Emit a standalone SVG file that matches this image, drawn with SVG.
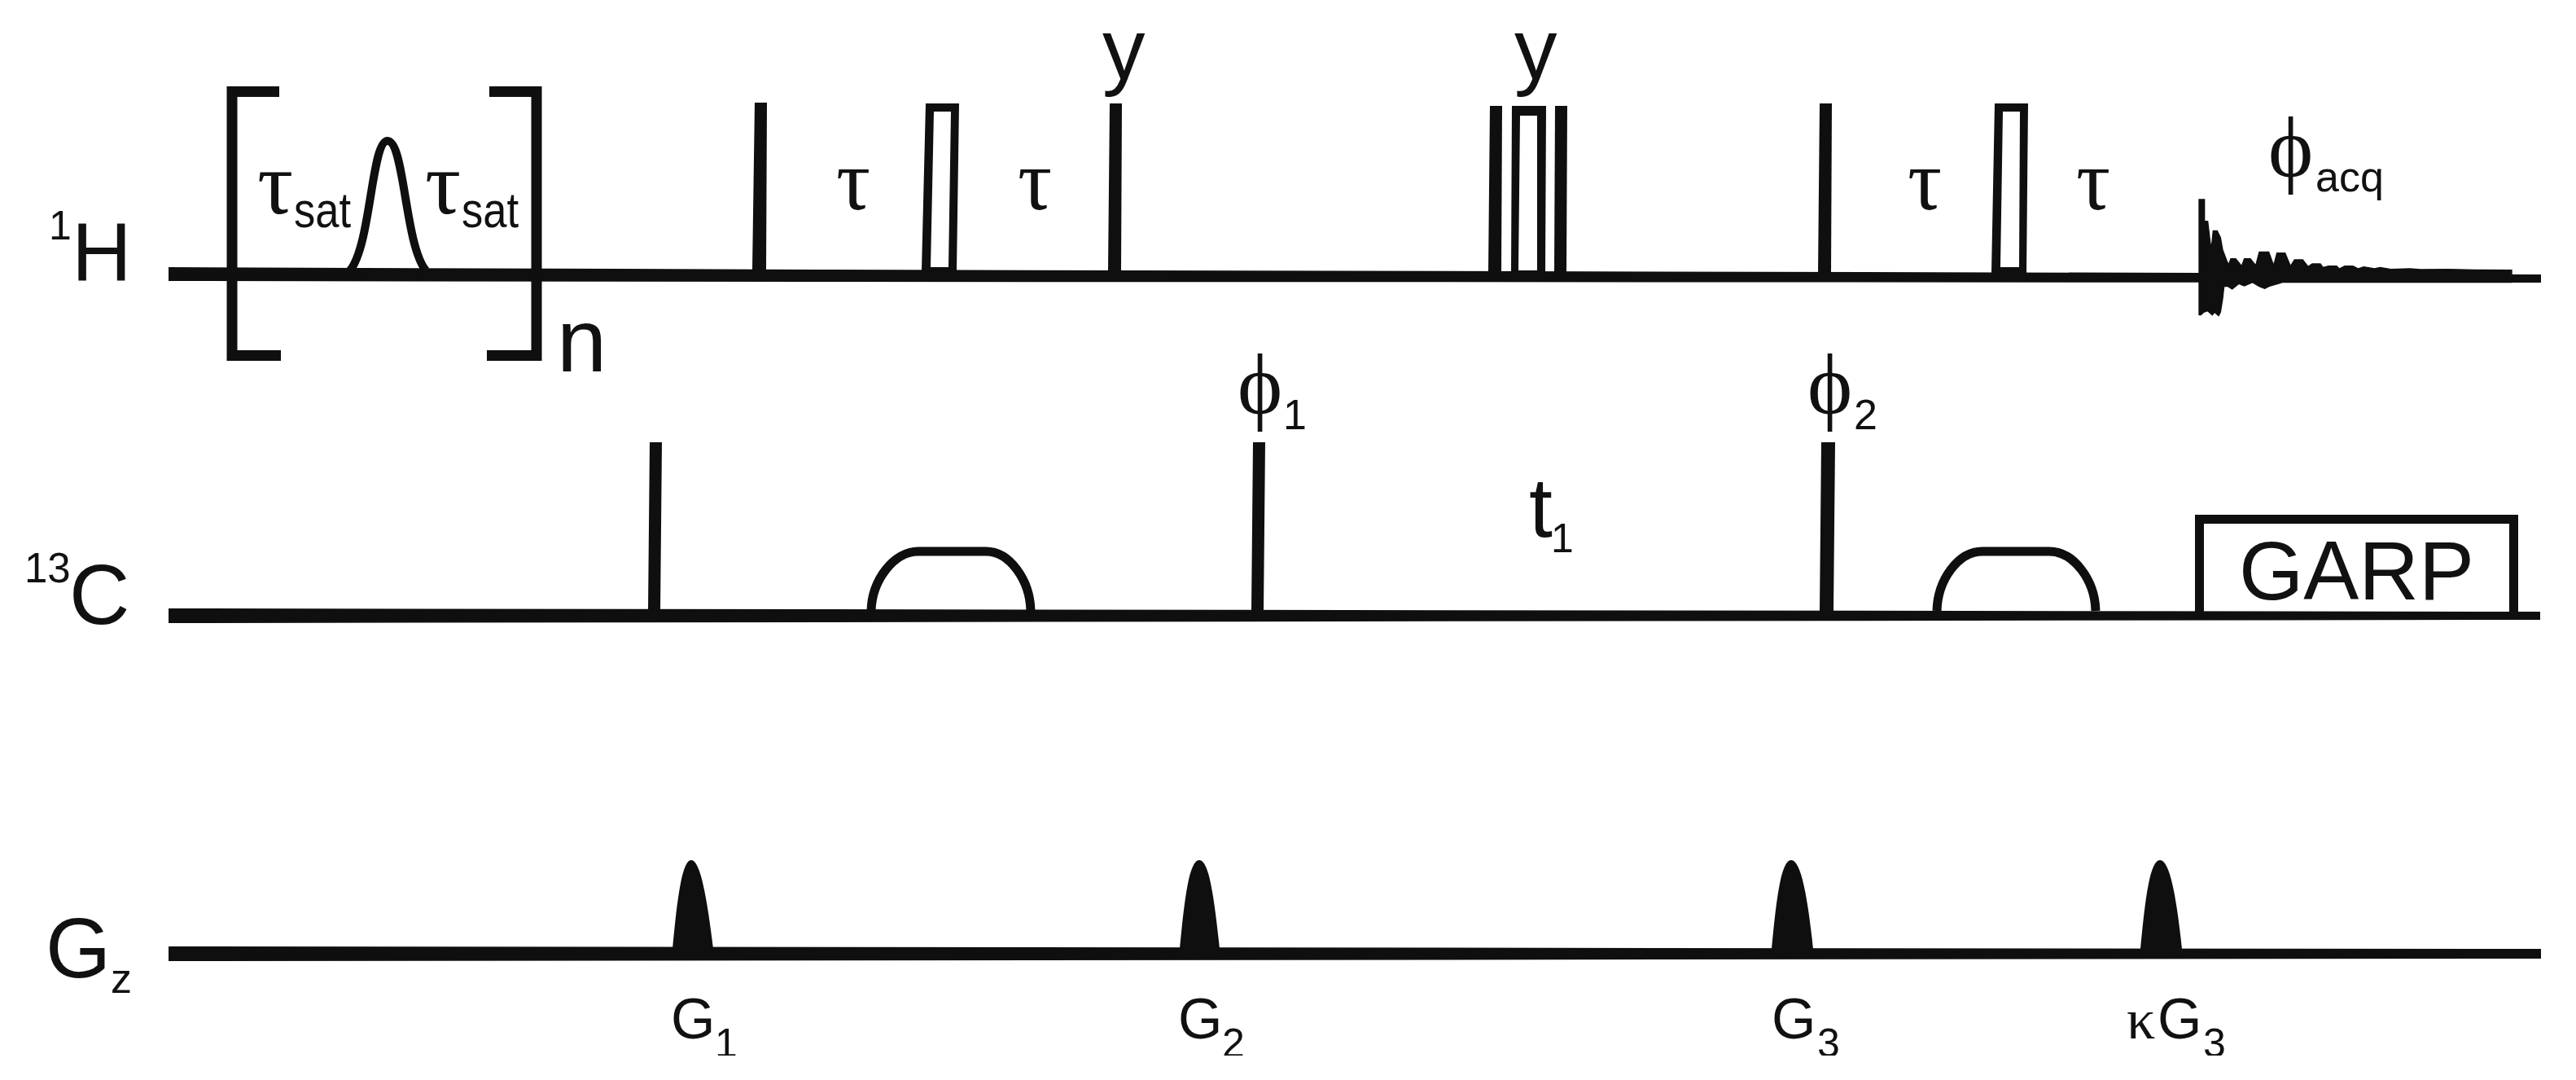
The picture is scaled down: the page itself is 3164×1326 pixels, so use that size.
<svg xmlns="http://www.w3.org/2000/svg" width="3164" height="1326" viewBox="0 0 3164 1326">
<style>
.k{fill:#0f0f0f}
.o{fill:none;stroke:#0f0f0f}
text{fill:#111;font-family:"Liberation Sans",Arial,sans-serif}
.s{font-family:"Liberation Serif","Times New Roman",serif}
</style>
<defs><clipPath id="cut"><rect width="3164" height="1296"/></clipPath></defs>
<rect width="3164" height="1326" fill="#fff"/>
<g id="connectors">
<polygon class="k" points="207,328 1000,331 2700,335 3121,337 3121,347 1000,346 207,345"/>
<polygon class="k" points="207,747 3120,751 3120,761 207,765"/>
<polygon class="k" points="207,1162 3121,1165 3121,1177 207,1180"/>
</g>
<g id="h-bracket-left"><path class="o" stroke-width="13" d="M343,112.500H285V436.500H345"/></g>
<g id="h-bracket-right"><path class="o" stroke-width="13" d="M601,112.500H659V436.500H598"/></g>
<g id="h-shape"><path class="o" stroke-width="10" d="M430,332C456,300 456,173 476,173C497,173 497,300 523,332"/></g>
<g id="h-p1"><polygon class="k" points="927,126 942,126 941,332 924,332"/></g>
<g id="h-p2"><path class="k" fill-rule="evenodd" d="M1137,127H1178L1175,332H1132ZM1147,137L1143,328H1165L1168,137Z"/></g>
<g id="h-p3"><polygon class="k" points="1363,127 1378,127 1377,332 1361,332"/></g>
<g id="h-p4"><polygon class="k" points="1830,130 1845,130 1844,334 1828,334"/></g>
<g id="h-p5"><path class="k" fill-rule="evenodd" d="M1857,130H1899L1898,334H1856ZM1867,142L1865,332H1888V142Z"/></g>
<g id="h-p6"><polygon class="k" points="1910,130 1925,130 1924,334 1909,334"/></g>
<g id="h-p7"><polygon class="k" points="2235,127 2250,127 2249,336 2233,336"/></g>
<g id="h-p8"><path class="k" fill-rule="evenodd" d="M2450,127H2491L2489,336H2446ZM2460,137L2457,328H2480L2481,137Z"/></g>
<g id="h-fid"><path class="k" stroke="#0f0f0f" stroke-width="4" transform="translate(2640 220) scale(.33333)" d="M183,345V75H203V155H215L225,240H230L235,190H250L262,215L270,260L285,300L292,315L300,293H318L340,320L350,293H372L392,318L405,268H440L458,318L470,272H500L520,320L535,297H565L585,322L600,312H630L640,325L660,320H690L700,330L720,320H750L770,330L790,323L830,330L850,325L890,332L960,330L1000,333L1100,332L1200,334L1335,335V380H490L440,395L425,403L405,395L380,380L350,393L330,385L305,405L290,395L275,395L270,440L262,490L255,503L240,490L232,500L215,485L200,490L190,500H183Z"/></g>
<g id="c-p1"><polygon class="k" points="798,543 813,543 811,750 796,750"/></g>
<g id="c-p2"><polygon class="k" points="1539,543 1554,543 1552,750 1537,750"/></g>
<g id="c-p3"><polygon class="k" points="2237,543 2254,543 2252,750 2235,750"/></g>
<g id="c-shape1"><path class="o" stroke-width="11" d="M1070,750C1071,712 1098,677 1128,677H1211C1240,677 1265,712 1266,750"/></g>
<g id="c-shape2"><path class="o" stroke-width="11" d="M2379,750C2380,712 2405,677 2435,677H2517C2547,677 2573,712 2574,750"/></g>
<g id="c-garp"><path class="o" stroke-width="11" d="M2701.500,752V637.500H3087.500V752"/><text x="2750" y="736" font-size="102">GARP</text></g>
<g id="g1"><path class="k" d="M826,1165C832,1100 838,1056 849,1056C860,1056 868,1100 876,1165Z"/></g>
<g id="g2"><path class="k" d="M1449,1165C1455,1100 1461,1056 1473,1056C1485,1056 1491,1100 1498,1165Z"/></g>
<g id="g3"><path class="k" d="M2176,1165C2182,1100 2188,1056 2200,1056C2212,1056 2220,1100 2227,1165Z"/></g>
<g id="g4"><path class="k" d="M2629,1165C2635,1100 2641,1056 2653,1056C2665,1056 2673,1100 2680,1165Z"/></g>
<g id="labels" clip-path="url(#cut)">
<text x="60" y="294" font-size="50">1</text>
<text x="88" y="345" font-size="102">H</text>
<text x="30" y="715" font-size="51">13</text>
<text x="85" y="766" font-size="103">C</text>
<text x="56" y="1200" font-size="103">G</text>
<text x="136" y="1219" font-size="52">z</text>
<text x="684" y="456" font-size="110">n</text>
<text class="s" x="316" y="262" font-size="110">τ</text>
<text x="361" y="279" font-size="62" textLength="70" lengthAdjust="spacingAndGlyphs">sat</text>
<text class="s" x="522" y="262" font-size="110">τ</text>
<text x="567" y="279" font-size="62" textLength="70" lengthAdjust="spacingAndGlyphs">sat</text>
<text class="s" x="1027" y="257" font-size="105">τ</text>
<text class="s" x="1250" y="257" font-size="105">τ</text>
<text class="s" x="2343" y="257" font-size="105">τ</text>
<text class="s" x="2550" y="257" font-size="105">τ</text>
<text x="1354" y="97" font-size="105">y</text>
<text x="1860" y="97" font-size="105">y</text>
<text class="s" x="1520" y="507" font-size="105">ϕ</text>
<text x="1576" y="527" font-size="52">1</text>
<text class="s" x="2220" y="507" font-size="105">ϕ</text>
<text x="2277" y="527" font-size="52">2</text>
<text class="s" x="2786" y="216" font-size="105">ϕ</text>
<text x="2844" y="235" font-size="52">acq</text>
<text x="1878" y="659" font-size="104">t</text>
<text x="1905" y="678" font-size="50">1</text>
<text x="824" y="1275" font-size="70">G</text>
<text x="878" y="1298" font-size="50">1</text>
<text x="1447" y="1275" font-size="70">G</text>
<text x="1501" y="1298" font-size="50">2</text>
<text x="2176" y="1275" font-size="70">G</text>
<text x="2232" y="1298" font-size="50">3</text>
<text class="s" x="2612" y="1275" font-size="70">κ</text>
<text x="2650" y="1275" font-size="70">G</text>
<text x="2706" y="1298" font-size="50">3</text>
</g>
</svg>
